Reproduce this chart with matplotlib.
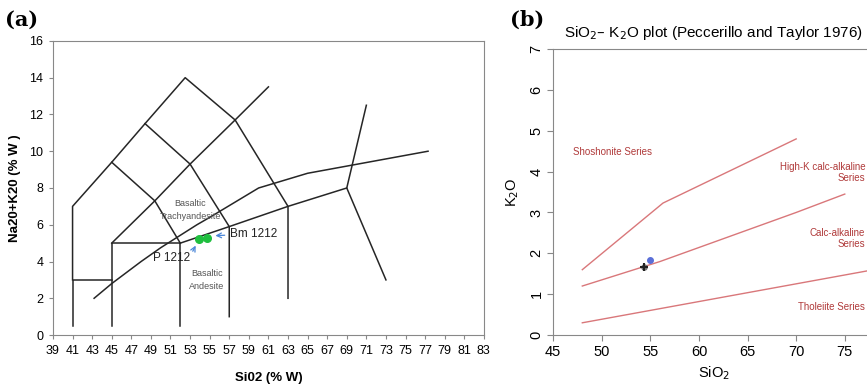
import matplotlib.pyplot as plt

plt.rcParams['font.family'] = ['Liberation Sans', 'DejaVu Sans']

# ---- (a) TAS diagram boundaries (SiO2, Na2O+K2O)
tas_lines = [
    ([41, 41, 45], [0.5, 3, 3]),
    ([41, 41, 45, 48.4, 52.5, 57.6, 63, 63], [3, 7, 9.4, 11.5, 14, 11.7, 7, 2]),
    ([45, 45, 52, 52], [0.5, 5, 5, 0.5]),
    ([45, 49.4, 53, 57.6, 61], [5, 7.3, 9.3, 11.7, 13.5]),
    ([45, 49.4, 52], [9.4, 7.3, 5]),
    ([48.4, 53, 57, 57], [11.5, 9.3, 5.9, 1]),
    ([52, 57, 63, 69, 73], [5, 5.9, 7, 8, 3]),
    ([69, 71], [8, 12.5]),
]
alk_x = [43.2, 45, 48, 50, 53.7, 55, 60, 65, 77.3]
alk_y = [2, 2.8, 4, 4.75, 6, 6.4, 8, 8.8, 10]

sample_si = [53.9, 54.75]
sample_alk = [5.22, 5.3]

# ---- (b) Peccerillo & Taylor boundaries
tholeiite_x = [48, 78]
tholeiite_y = [0.3, 1.6]
calc_x = [48, 56, 63, 70, 75]
calc_y = [1.2, 1.8, 2.4, 3.0, 3.45]
highk_x = [48, 56.3, 70]
highk_y = [1.6, 3.23, 4.8]

pt_black = (54.3, 1.67)
pt_blue = (55.0, 1.83)

fig = plt.figure(figsize=(8.67, 3.86), dpi=100)

# ---------------- panel (a)
ax1 = fig.add_axes([0.0611, 0.132, 0.497, 0.762])
for xs, ys in tas_lines:
    ax1.plot(xs, ys, color='#262626', lw=1.1)
ax1.plot(alk_x, alk_y, color='#262626', lw=1.1)
ax1.scatter(sample_si, sample_alk, s=30, color='#1fbf3f', zorder=5)

ax1.text(53.0, 6.8, 'Basaltic\nTrachyandesite', fontsize=6.5, color='#555555',
         ha='center', va='center', linespacing=1.6)
ax1.text(54.7, 3.0, 'Basaltic\nAndesite', fontsize=6.5, color='#555555',
         ha='center', va='center', linespacing=1.6)
ax1.annotate('Bm 1212', xy=(55.3, 5.4), xytext=(57.1, 5.5), fontsize=8.5,
             va='center', color='#222222',
             arrowprops=dict(arrowstyle='->', color='#4a86d8', lw=0.9))
ax1.annotate('P 1212', xy=(53.7, 5.0), xytext=(49.2, 4.2), fontsize=8.5,
             va='center', color='#222222',
             arrowprops=dict(arrowstyle='->', color='#4a86d8', lw=0.9,
                             shrinkA=0, relpos=(1, 0.6)))

ax1.set_xlim(39, 83)
ax1.set_ylim(0, 16)
ax1.set_xticks(range(39, 84, 2))
ax1.set_yticks(range(0, 17, 2))
ax1.tick_params(labelsize=9, length=3, color='#888888', pad=4)
for sp in ax1.spines.values():
    sp.set_color('#888888')
ax1.set_xlabel('Si02 (% W)', fontsize=9.5, fontweight='bold', labelpad=11)
ax1.set_ylabel('Na20+K20 (% W )', fontsize=9.5, fontweight='bold', labelpad=6)

# ---------------- panel (b)
ax2 = fig.add_axes([0.638, 0.132, 0.37, 0.741])
red = '#d9777a'
ax2.plot(tholeiite_x, tholeiite_y, color=red, lw=1)
ax2.plot(calc_x, calc_y, color=red, lw=1)
ax2.plot(highk_x, highk_y, color=red, lw=1)
ax2.scatter(*pt_black, marker='+', s=30, color='#222222', lw=1.5, zorder=5)
ax2.scatter(*pt_black, s=14, color='#777777', zorder=4)
ax2.scatter(*pt_blue, s=16, color='#5a6fd8', zorder=5)

tc = '#b03a3a'
ax2.text(47, 4.47, 'Shoshonite Series', fontsize=7, color=tc, va='center')
ax2.text(77.1, 3.98, 'High-K calc-alkaline\nSeries', fontsize=7, color=tc,
         ha='right', va='center', multialignment='right')
ax2.text(77.1, 2.36, 'Calc-alkaline\nSeries', fontsize=7, color=tc,
         ha='right', va='center', multialignment='right')
ax2.text(77.1, 0.68, 'Tholeiite Series', fontsize=7, color=tc,
         ha='right', va='center')

ax2.set_xlim(45, 78)
ax2.set_ylim(0, 7)
ax2.set_xticks(range(45, 76, 5))
ax2.set_yticks(range(0, 8))
ax2.tick_params(labelsize=10.5, length=4, color='#888888', pad=3)
for lab in ax2.get_yticklabels():
    lab.set_rotation(90)
    lab.set_va('center')
for sp in ax2.spines.values():
    sp.set_color('#888888')
ax2.set_xlabel('SiO$_2$', fontsize=10.5, labelpad=4)
ax2.set_ylabel('K$_2$O', fontsize=10.5, labelpad=6)
ax2.set_title('SiO$_2$– K$_2$O plot (Peccerillo and Taylor 1976)', fontsize=11, pad=9)

fig.text(0.006, 0.948, '(a)', fontsize=15, fontweight='bold',
         family='DejaVu Serif', va='center')
fig.text(0.588, 0.948, '(b)', fontsize=15, fontweight='bold',
         family='DejaVu Serif', va='center')

fig.savefig('out.png', dpi=100)
